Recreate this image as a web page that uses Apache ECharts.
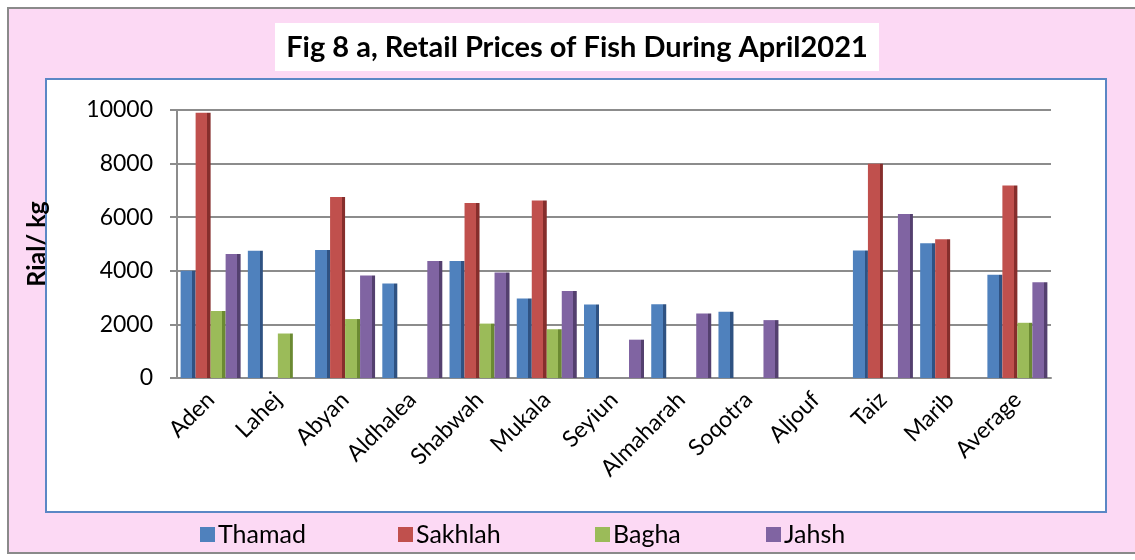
<!DOCTYPE html>
<html>
<head>
<meta charset="utf-8">
<script src="https://cdn.jsdelivr.net/npm/echarts@6/dist/echarts.min.js"></script>
<style>
    html, body { margin: 0; padding: 0; background: #fff; }
    #chart1 { width: 1135px; height: 560px; }
</style>
</head>
<body>
<div id="chart1"></div>
<script>
var categories = ['Aden', 'Lahej', 'Abyan', 'Aldhalea', 'Shabwah', 'Mukala', 'Seyiun',
    'Almaharah', 'Soqotra', 'Aljouf', 'Taiz', 'Marib', 'Average'];
var thamad = [4000, 4750, 4780, 3530, 4370, 2970, 2740, 2750, 2470, null, 4760, 5030, 3850];
var sakhlah = [9900, null, 6750, 0, 6530, 6620, null, 0, null, null, 7990, 5180, 7180];
var bagha = [2500, 1660, 2200, null, 2030, 1820, null, null, null, null, null, null, 2060];
var jahsh = [4630, null, 3820, 4370, 3940, 3250, 1430, 2410, 2160, null, 6120, null, 3570];
var yTicks = [0, 2000, 4000, 6000, 8000, 10000];
var seriesNames = ['Thamad', 'Sakhlah', 'Bagha', 'Jahsh'];
var frontColors = ['#4f81bd', '#c0504d', '#9bbb59', '#8064a2'];
var sideColors = ['#2f5282', '#862e2c', '#6b8a32', '#54406f'];

var font = 'Lato';
var chart1 = echarts.init(document.getElementById('chart1'));

// front colour + darker side strip to look a bit like the 3D columns
function barColor(front, side) {
    return {
        type: 'linear', x: 0, y: 0, x2: 1, y2: 0,
        colorStops: [
            {offset: 0, color: front},
            {offset: 0.78, color: front},
            {offset: 0.78, color: side},
            {offset: 1, color: side}
        ]
    };
}

function makeSeries(idx, data) {
    return {
        name: seriesNames[idx],
        type: 'bar',
        data: data,
        barWidth: 15,
        barGap: '0%',
        itemStyle: {color: barColor(frontColors[idx], sideColors[idx])}
    };
}

// one legend per item so they sit at even spacing like the original
var legendLeft = [195, 393, 590, 761];
var legends = [];
for (var i = 0; i < seriesNames.length; i++) {
    legends.push({
        data: [seriesNames[i]],
        left: legendLeft[i],
        top: 517,
        icon: 'rect',
        itemWidth: 15,
        itemHeight: 15,
        itemGap: 0,
        itemStyle: {color: frontColors[i]},
        textStyle: {fontSize: 25, color: '#000', fontFamily: font, padding: [0, 0, 0, -2]}
    });
}

var option = {
    backgroundColor: '#fff',
    textStyle: {fontFamily: font},
    animation: false,
    graphic: [
        {type: 'rect', z: -10, shape: {x: 8, y: 8, width: 1140, height: 545},
            style: {fill: '#fcd9f4', stroke: '#8a8a8a', lineWidth: 2}},
        {type: 'rect', z: -9, shape: {x: 46, y: 79, width: 1060, height: 433},
            style: {fill: '#fff', stroke: '#5b87c5', lineWidth: 2}},
        {type: 'rect', z: -9, shape: {x: 275, y: 23, width: 604, height: 48},
            style: {fill: '#fff'}},
        {type: 'text', z: 5, x: 577, y: 48,
            style: {text: 'Fig 8 a, Retail Prices of Fish During April2021', fill: '#000',
                font: 'bold 29px ' + font, align: 'center', verticalAlign: 'middle'}}
    ],
    legend: legends,
    grid: {left: 177, right: 84, top: 110, bottom: 182},
    xAxis: {
        type: 'category',
        data: categories,
        axisLine: {lineStyle: {color: '#8c8c8c', width: 2}},
        axisTick: {length: 7, lineStyle: {color: '#8c8c8c', width: 2}},
        axisLabel: {rotate: 45, interval: 0, fontSize: 23, color: '#000', margin: 18}
    },
    yAxis: {
        type: 'value',
        min: yTicks[0],
        max: yTicks[yTicks.length - 1],
        interval: 2000,
        name: 'Rial/ kg',
        nameLocation: 'middle',
        nameRotate: 90,
        nameGap: 128,
        nameTextStyle: {fontSize: 25, fontWeight: 'bold', color: '#000'},
        axisLine: {show: true, lineStyle: {color: '#8c8c8c', width: 2}},
        axisTick: {show: true, length: 7, lineStyle: {color: '#8c8c8c', width: 2}},
        axisLabel: {fontSize: 23, color: '#000', margin: 24, formatter: function (v) { return String(v); }},
        splitLine: {lineStyle: {color: '#8c8c8c', width: 2}}
    },
    series: [
        makeSeries(0, thamad),
        makeSeries(1, sakhlah),
        makeSeries(2, bagha),
        makeSeries(3, jahsh)
    ]
};
chart1.setOption(option, true);
</script>
</body>
</html>
